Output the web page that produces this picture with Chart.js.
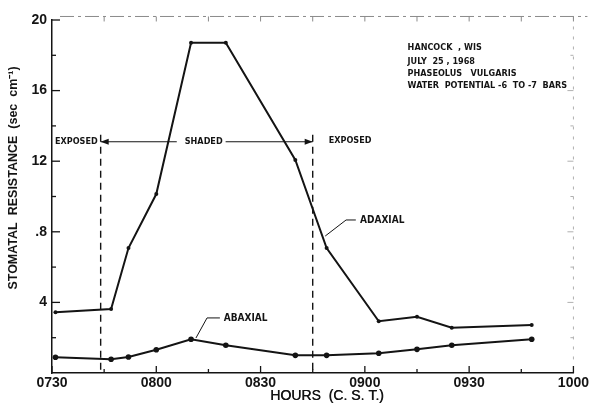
<!DOCTYPE html>
<html><head><meta charset="utf-8">
<script src="https://cdn.jsdelivr.net/npm/chart.js@4.4.0/dist/chart.umd.min.js"></script>
<style>html,body{margin:0;padding:0;background:#fff}#wrap{width:591px;height:403px;position:relative}</style>
</head><body><div id="wrap"><canvas id="c" width="591" height="403"></canvas></div>
<script>
// ---- data ----
const times = ['0731','0747','0752','0800','0810','0820','0840','0849','0904','0915','0925','0948'];
const adaxial = [3.44,3.63,7.08,10.14,18.71,18.71,12.07,7.08,2.93,3.19,2.57,2.72];
const abaxial = [0.89,0.78,0.91,1.32,1.91,1.57,1.00,1.00,1.12,1.34,1.57,1.91];
const xTickLabels = ['0730','0800','0830','0900','0930','1000'];
const yTickLabels = ['4','.8','12','16','20'];
const boundaryTimes = ['0744','0845'];
const periodLabels = ['EXPOSED','SHADED','EXPOSED'];
const notes = ['HANCOCK  , WIS','JULY  25 , 1968','PHASEOLUS   VULGARIS','WATER  POTENTIAL -6  TO -7  BARS'];
const seriesNames = ['ADAXIAL','ABAXIAL'];
const yTitle = 'STOMATAL  RESISTANCE  (sec  cm\u207B\u00B9)';
const xTitle = 'HOURS  (C. S. T.)';

function toMin(s){ return parseInt(s.slice(0,2),10)*60 + parseInt(s.slice(2),10) - 450; }
const xs = times.map(toMin);

const INK = '#141414';
const tickFont = {family:'Liberation Sans, Arial, sans-serif', size:14, weight:'bold'};
const annFont = 'bold 9px "DejaVu Sans Condensed", "Liberation Sans Narrow", sans-serif';

const deco = {
  id:'deco',
  afterDraw(chart){
    const {ctx, scales:{x,y}, chartArea:a} = chart;
    const P = (m,v)=>[x.getPixelForValue(m), y.getPixelForValue(v)];
    const line=(x1,y1,x2,y2)=>{ctx.beginPath();ctx.moveTo(x1,y1);ctx.lineTo(x2,y2);ctx.stroke();};
    ctx.save();
    // faint top and right frame
    ctx.strokeStyle='#8a8a8a'; ctx.lineWidth=1; ctx.setLineDash([14,4,3,4]);
    const topY = y.getPixelForValue(20.2);
    line(a.left+8, topY, a.right+14, topY);
    ctx.setLineDash([3,7]); ctx.strokeStyle='#b0b0b0';
    line(a.right, topY, a.right, a.bottom);
    ctx.setLineDash([]);
    ctx.strokeStyle='#8a8a8a';
    x.ticks.forEach(t=>{ if(t.value===0) return; const px=x.getPixelForValue(t.value); line(px,topY,px,topY+5);});
    ctx.strokeStyle='#b0b0b0';
    y.ticks.forEach(t=>{ if(t.value===0||t.value===20) return; const py=y.getPixelForValue(t.value); line(a.right,py,a.right-(t.value%4===0?6:3),py);});
    // inward ticks
    ctx.strokeStyle=INK; ctx.lineWidth=1.3;
    x.ticks.forEach(t=>{ const px=x.getPixelForValue(t.value); line(px,a.bottom,px,a.bottom-(t.value%30===0?7:4)); });
    y.ticks.forEach(t=>{ if(t.value===0) return; const py=y.getPixelForValue(t.value); line(a.left,py,a.left+(t.value%4===0?8:4),py); });
    // boundary dashed lines
    const bx = boundaryTimes.map(s=>x.getPixelForValue(toMin(s)));
    ctx.setLineDash([7,5]); ctx.lineWidth=1.4;
    bx.forEach(px=>line(px, y.getPixelForValue(13.5), px, a.bottom));
    ctx.setLineDash([]);
    // arrow with SHADED
    const ay = y.getPixelForValue(13.1);
    ctx.font = annFont; ctx.fillStyle=INK; ctx.textBaseline='middle';
    const mid = (bx[0]+bx[1])/2 - 3;
    const sw = ctx.measureText(periodLabels[1]).width;
    ctx.textAlign='center'; ctx.fillText(periodLabels[1], mid, ay);
    ctx.lineWidth=1.1;
    line(bx[0], ay, mid - sw/2 - 8, ay);
    line(mid + sw/2 + 3, ay, bx[1], ay);
    ctx.beginPath(); ctx.moveTo(bx[0],ay); ctx.lineTo(bx[0]+8,ay-3); ctx.lineTo(bx[0]+8,ay+3); ctx.closePath(); ctx.fill();
    ctx.beginPath(); ctx.moveTo(bx[1],ay); ctx.lineTo(bx[1]-8,ay-3); ctx.lineTo(bx[1]-8,ay+3); ctx.closePath(); ctx.fill();
    ctx.textAlign='center'; ctx.fillText(periodLabels[0], (a.left+bx[0])/2, ay);
    ctx.textAlign='left'; ctx.fillText(periodLabels[2], bx[1]+16, ay-1);
    // notes
    ctx.textAlign='left';
    const nv=[18.41,17.62,16.94,16.26];
    notes.forEach((n,i)=>{ const [px,py]=P(102.3,nv[i]); ctx.fillText(n,px,py); });
    // series labels with leaders
    ctx.font = 'bold 10px "DejaVu Sans Condensed", "Liberation Sans Narrow", sans-serif';
    let [tx,ty]=P(88.6,8.67); ctx.fillText(seriesNames[0],tx,ty);
    ctx.lineWidth=1;
    ctx.beginPath(); ctx.moveTo(...P(87.4,8.67)); ctx.lineTo(...P(84.6,8.67)); ctx.lineTo(...P(78.6,7.76)); ctx.stroke();
    [tx,ty]=P(49.4,3.12); ctx.fillText(seriesNames[1],tx,ty);
    ctx.beginPath(); ctx.moveTo(...P(48.3,3.12)); ctx.lineTo(...P(44.6,3.12)); ctx.lineTo(...P(41.4,1.98)); ctx.stroke();
    // axis titles
    ctx.fillStyle=INK;
    ctx.font='bold 12.5px "Liberation Sans", Arial, sans-serif';
    ctx.save(); ctx.translate(14,178); ctx.rotate(-Math.PI/2); ctx.textAlign='center'; ctx.fillText(yTitle,0,0); ctx.restore();
    ctx.font='14px "Liberation Sans", Arial, sans-serif';
    ctx.textAlign='center'; ctx.fillText(xTitle, 327, 396); ctx.fillText(xTitle, 327.4, 396);
    ctx.restore();
  }
};

new Chart(document.getElementById('c'), {
  type:'line',
  data:{ datasets:[
    {label:seriesNames[0], data: xs.map((m,i)=>({x:m,y:adaxial[i]})), borderColor:INK, backgroundColor:INK, borderWidth:2, pointRadius:2, pointBorderWidth:0, tension:0},
    {label:seriesNames[1], data: xs.map((m,i)=>({x:m,y:abaxial[i]})), borderColor:INK, backgroundColor:INK, borderWidth:2, pointRadius:2.8, pointBorderWidth:0, tension:0}
  ]},
  options:{
    responsive:false, animation:false, devicePixelRatio:1,
    layout:{padding:{top:20,right:14,left:0,bottom:0}},
    plugins:{legend:{display:false}, tooltip:{enabled:false}},
    scales:{
      x:{type:'linear', min:0, max:150,
         ticks:{stepSize:15, autoSkip:false, maxRotation:0, color:INK, font:tickFont, padding:2,
                callback:v=> v%30===0 ? xTickLabels[v/30] : ''},
         grid:{display:false, drawTicks:false}, border:{display:true,color:INK,width:1.5},
         afterFit:s=>{s.height=30;}},
      y:{type:'linear', min:0, max:20,
         ticks:{stepSize:2, color:INK, font:tickFont, padding:5,
                callback:v=> (v%4===0 && v>0) ? yTickLabels[v/4-1] : ''},
         grid:{display:false, drawTicks:false}, border:{display:true,color:INK,width:1.5},
         afterFit:s=>{s.width=52;}}
    }
  },
  plugins:[deco]
});
</script></body></html>
